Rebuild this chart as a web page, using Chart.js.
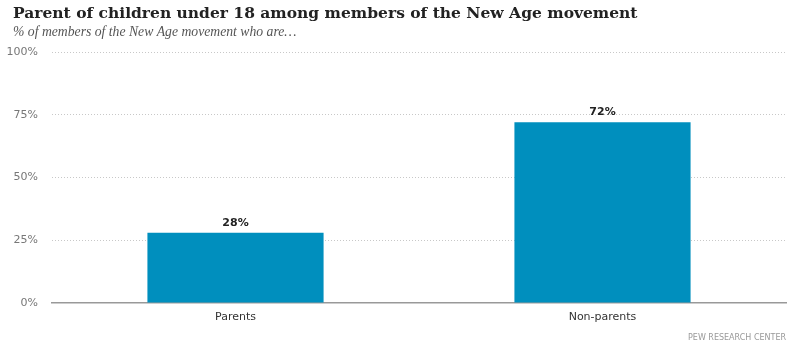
<!DOCTYPE html>
<html>
<head>
<meta charset="utf-8">
<script src="https://cdn.jsdelivr.net/npm/chart.js@4"></script>
<style>
  html, body { margin: 0; padding: 0; background: #fff; }
  #wrap { width: 800px; height: 344px; position: relative; }
</style>
</head>
<body>
<div id="wrap"><canvas id="myChart" width="800" height="344"></canvas></div>
<script>
// chart data
const categories = ['Parents', 'Non-parents'];
const shares = [28, 72];
const yTicks = [0, 25, 50, 75, 100];

const titleText = 'Parent of children under 18 among members of the New Age movement';
const subtitleText = '% of members of the New Age movement who are\u2026';
const sourceText = 'PEW RESEARCH CENTER';

// draws title, subtitle, bar labels and the footer note
const extras = {
  id: 'extras',
  afterDatasetsDraw(chart) {
    const ctx = chart.ctx;
    ctx.save();
    ctx.textBaseline = 'alphabetic';
    ctx.textAlign = 'left';
    ctx.fillStyle = '#222';
    ctx.font = 'bold 15.5px "DejaVu Serif"';
    ctx.fillText(titleText, 13, 18);
    ctx.fillStyle = '#555';
    ctx.font = 'italic 13.7px "Liberation Serif"';
    ctx.fillText(subtitleText, 13, 36);

    // value labels above bars
    const meta = chart.getDatasetMeta(0);
    ctx.textAlign = 'center';
    ctx.fillStyle = '#222';
    ctx.font = 'bold 11px "DejaVu Sans"';
    meta.data.forEach(function(bar, i) {
      ctx.fillText(shares[i] + '%', bar.x, bar.y - 7);
    });

    ctx.textAlign = 'right';
    ctx.fillStyle = '#999';
    ctx.font = '8px "DejaVu Sans"';
    ctx.fillText(sourceText, 786, 340);
    ctx.restore();
  }
};

const ctx = document.getElementById('myChart').getContext('2d');
const myChart = new Chart(ctx, {
  type: 'bar',
  data: {
    labels: categories,
    datasets: [{
      data: shares,
      backgroundColor: '#008fbe',
      borderWidth: 0,
      categoryPercentage: 1,
      barPercentage: 0.48
    }]
  },
  options: {
    responsive: false,
    animation: false,
    layout: { padding: { top: 52, right: 14, bottom: 12, left: 0 } },
    plugins: {
      legend: { display: false },
      tooltip: { enabled: false }
    },
    scales: {
      x: {
        grid: { display: false },
        border: { color: '#999', width: 1.5 },
        ticks: { color: '#333', font: { family: 'DejaVu Sans', size: 11 }, padding: 0 },
        afterFit: function(scale) { scale.height = 29; }
      },
      y: {
        min: 0,
        max: 100,
        afterBuildTicks: function(scale) {
          scale.ticks = yTicks.map(function(v) { return { value: v }; });
        },
        afterFit: function(scale) { scale.width = 52; },
        border: { display: false, dash: [1, 2] },
        grid: {
          color: function(c) { return c.tick && c.tick.value === 0 ? 'rgba(0,0,0,0)' : '#c8c8c8'; },
          drawTicks: false,
          lineWidth: 1
        },
        ticks: {
          color: '#777',
          font: { family: 'DejaVu Sans', size: 11 },
          padding: 14,
          callback: function(v) { return v + '%'; }
        }
      }
    }
  },
  plugins: [extras]
});
</script>
</body>
</html>
